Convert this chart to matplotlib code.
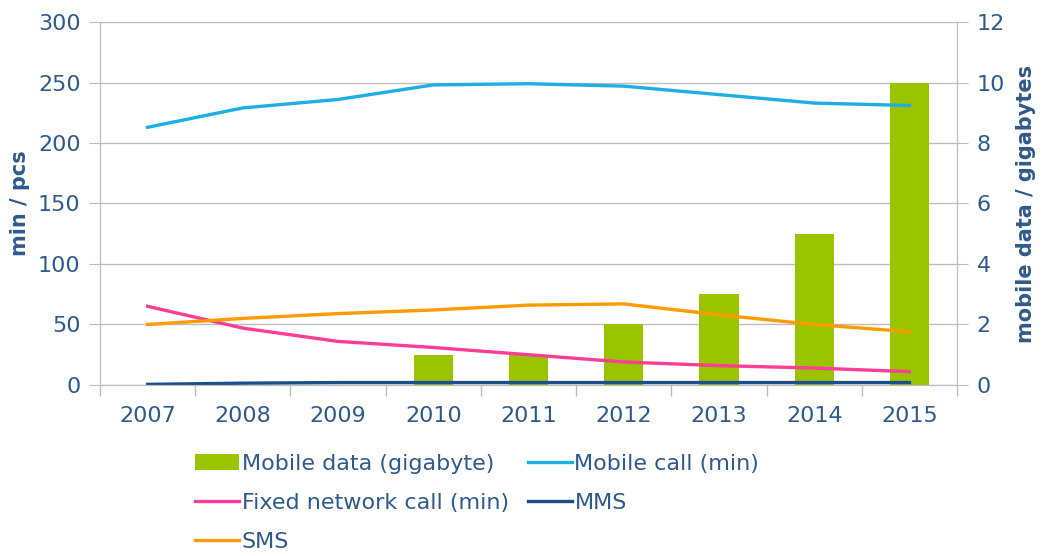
import numpy as np
import matplotlib
matplotlib.use("Agg")
import matplotlib.pyplot as plt

# --------------------------------------------------------------------------- #
years = ['2007', '2008', '2009', '2010', '2011', '2012', '2013', '2014', '2015']
mobile_data = [0, 0, 0, 1, 1, 2, 3, 5, 10]            # gigabytes, right axis
mobile_call = [213, 229, 236, 248, 249, 247, 240, 233, 231]
fixed_call = [65, 47, 36, 31, 25, 19, 16, 14, 11]
mms = [0.5, 1.5, 2, 2, 2, 2, 2, 2, 2]
sms = [50, 55, 59, 62, 66, 67, 58, 50, 44]

left_ticks = [0, 50, 100, 150, 200, 250, 300]
right_ticks = [0, 2, 4, 6, 8, 10, 12]

txt = '#2E5A8A'
grid = '#BDBDBD'
c_bar, c_call, c_fixed, c_mms, c_sms = '#9BC400', '#1CAEE4', '#FF3C96', '#1B4F8C', '#FF9A00'

plt.rcParams['font.family'] = ['Verdana', 'DejaVu Sans']

fig = plt.figure(figsize=(10.43, 5.56), dpi=100)
ax = fig.add_axes([0.0959, 0.3076, 0.8217, 0.6528])
ax2 = ax.twinx()
x = np.arange(len(years))

bars = ax2.bar(x, mobile_data, width=0.41, color=c_bar, zorder=2, label='Mobile data (gigabyte)')
ax2.set_ylim(0, 12)
ax2.set_yticks(right_ticks)

ax.set_zorder(ax2.get_zorder() + 1)
ax.patch.set_visible(False)
ax2.patch.set_visible(True)
ax2.patch.set_facecolor('white')

for v in left_ticks:
    ax2.axhline(v * 12 / 300, color=grid, lw=1, zorder=0)

lw = 2.4
l_call, = ax.plot(x, mobile_call, color=c_call, lw=lw, label='Mobile call (min)')
l_fixed, = ax.plot(x, fixed_call, color=c_fixed, lw=lw, label='Fixed network call (min)')
l_mms, = ax.plot(x, mms, color=c_mms, lw=lw, label='MMS')
l_sms, = ax.plot(x, sms, color=c_sms, lw=lw, label='SMS')

ax.set_ylim(0, 300)
ax.set_yticks(left_ticks)
ax.set_xlim(-0.5, len(years) - 0.5)
ax.set_xticks(x)
ax.set_xticklabels(years)
ax.set_xticks(np.arange(-0.5, len(years)), minor=True)
ax.tick_params(axis='x', which='major', length=0, pad=15, labelsize=16, labelcolor=txt)
ax.tick_params(axis='x', which='minor', length=8, color=grid, width=1)
ax.tick_params(axis='y', length=8, color=grid, labelsize=16, labelcolor=txt, pad=6)
ax2.tick_params(axis='y', length=8, color=grid, labelsize=16, labelcolor=txt, pad=6)

for a in (ax, ax2):
    for s in a.spines.values():
        s.set_color(grid)
    a.spines['top'].set_visible(False)

ax.set_ylabel('min / pcs', fontsize=15, fontweight='bold', color=txt, labelpad=6)
ax2.set_ylabel('mobile data / gigabytes', fontsize=15, fontweight='bold', color=txt, labelpad=8)

handles = [bars, l_fixed, l_sms, l_call, l_mms]
leg = fig.legend(handles=handles, labels=[h.get_label() for h in handles],
                 ncol=2, loc='upper left', bbox_to_anchor=(0.187, 0.184),
                 frameon=False, fontsize=16, labelcolor=txt,
                 handlelength=2.0, handletextpad=0.1, columnspacing=0.85,
                 labelspacing=0.86, borderaxespad=0, borderpad=0)

fig.savefig('out.png', dpi=100)
